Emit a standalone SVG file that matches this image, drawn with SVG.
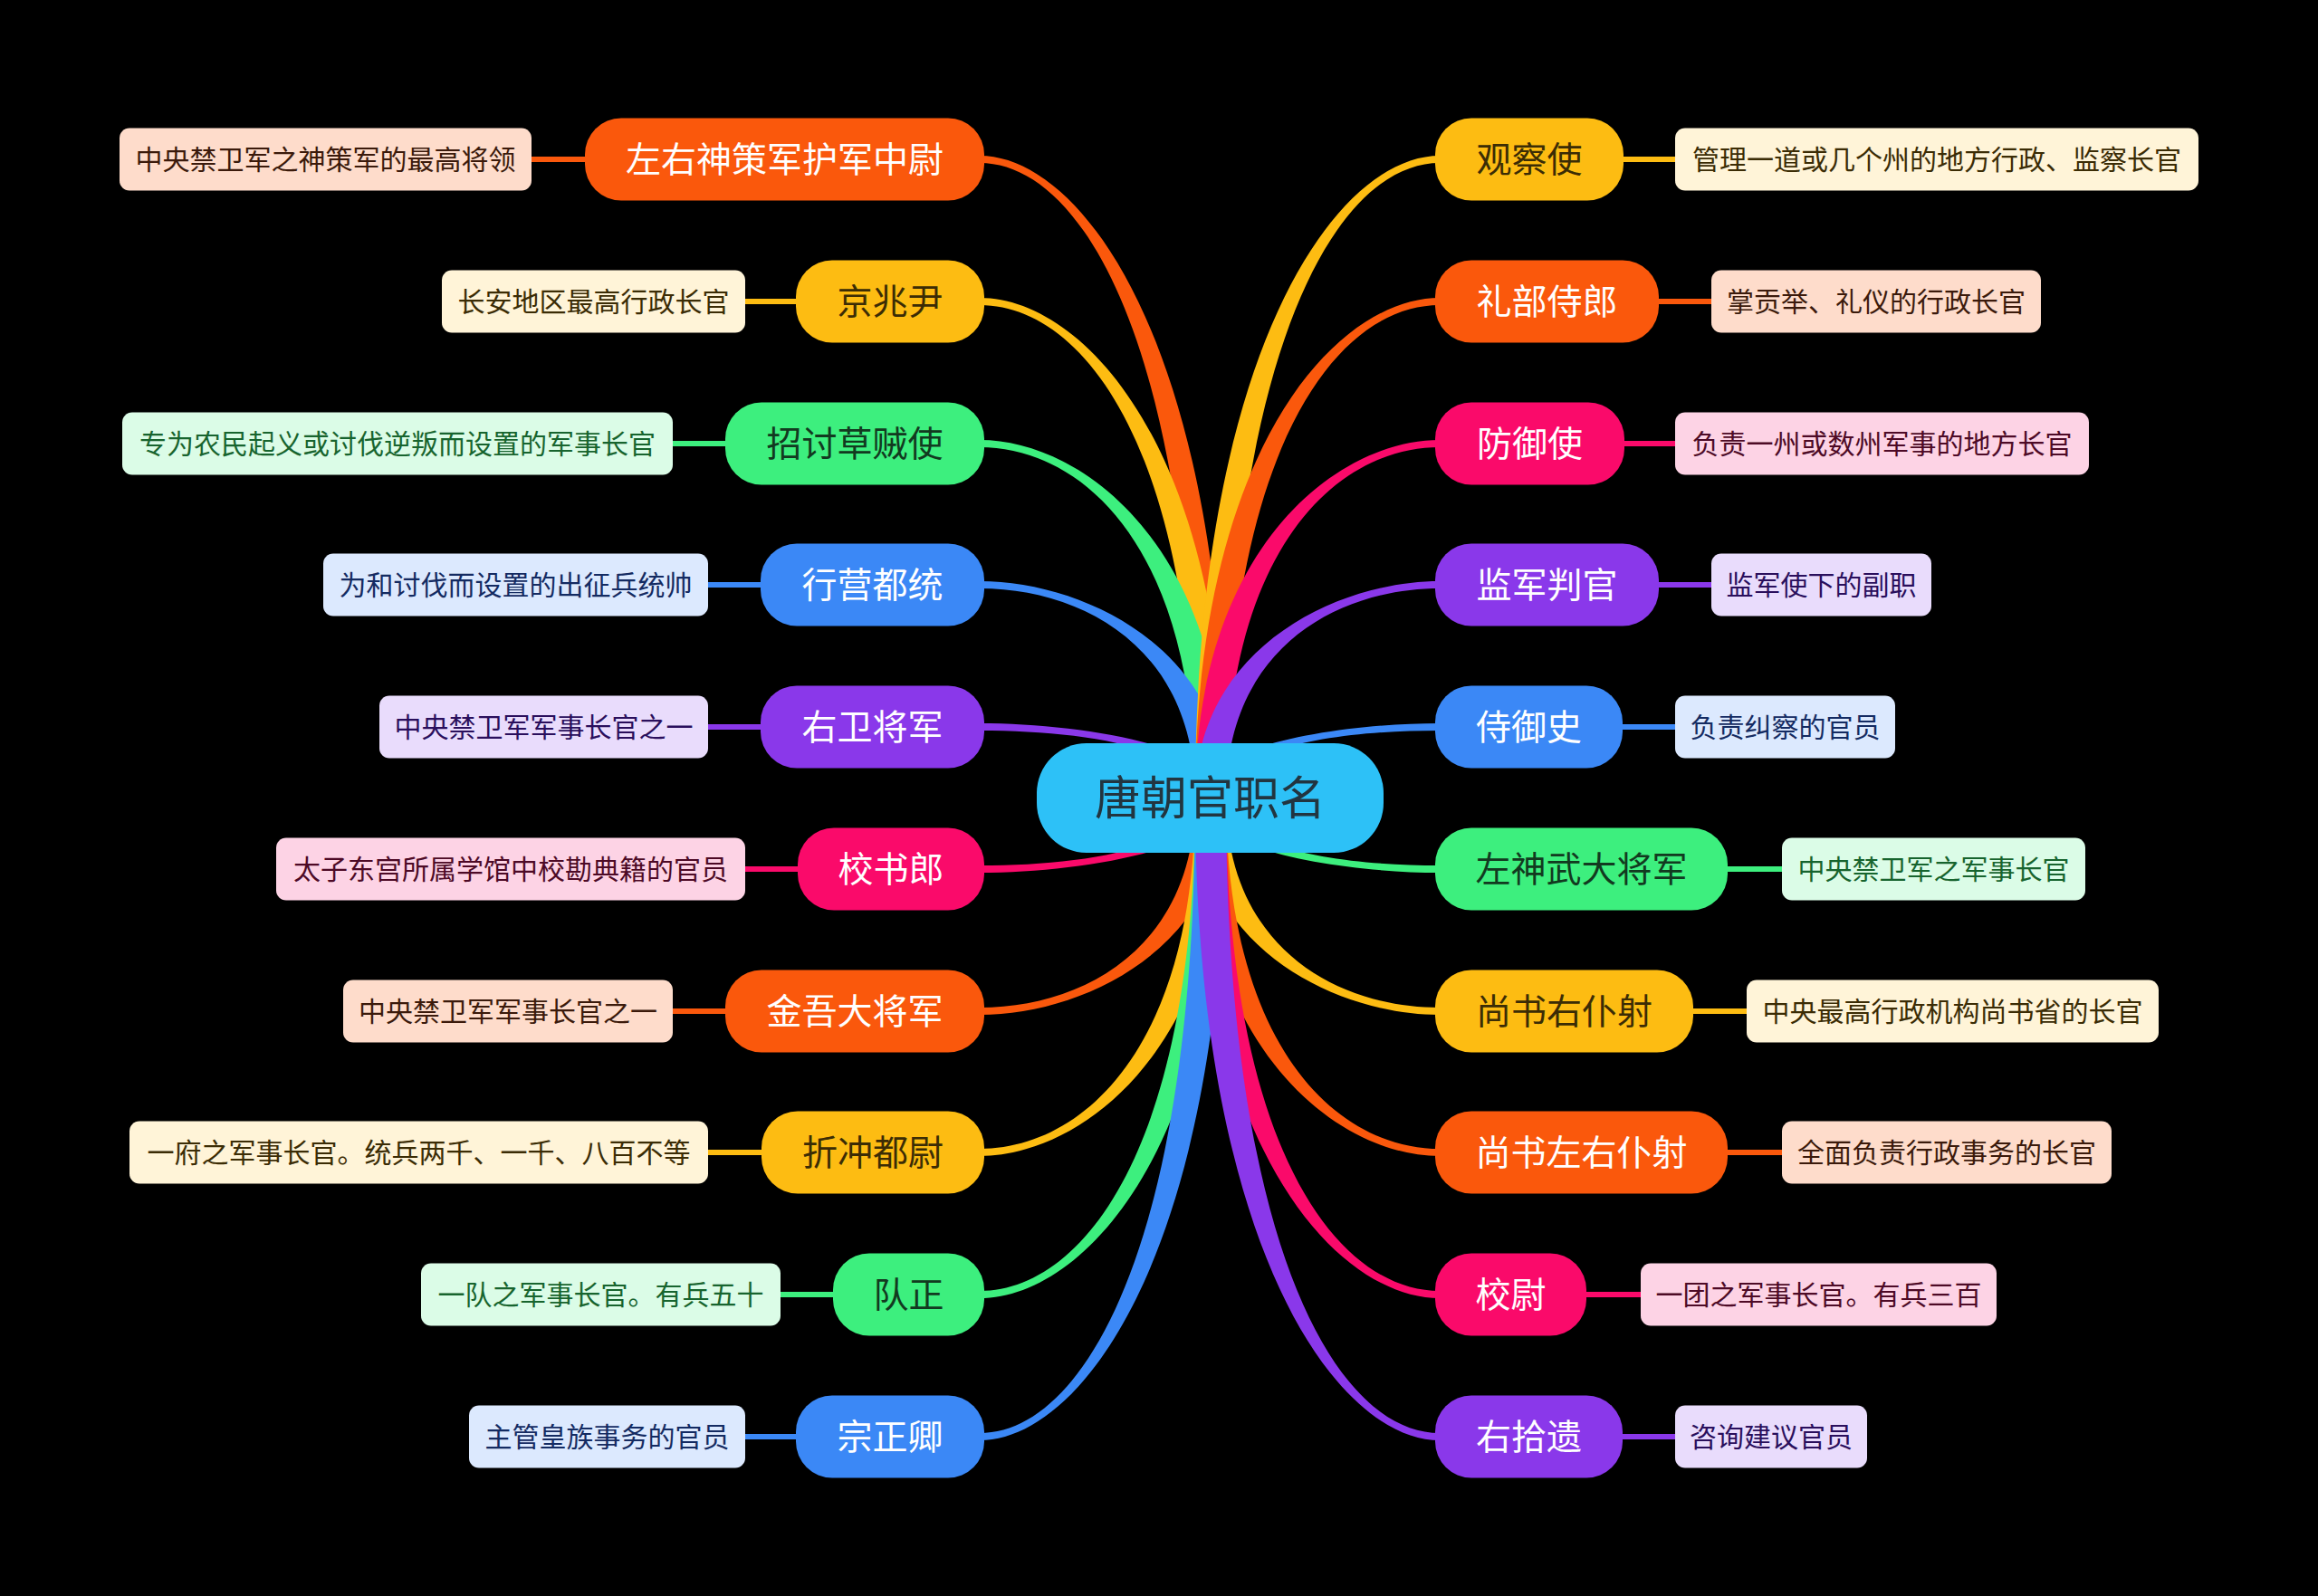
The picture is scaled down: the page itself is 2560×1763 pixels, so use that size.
<svg xmlns="http://www.w3.org/2000/svg" width="2560" height="1763" viewBox="0 0 2560 1763">
<style>
text{font-family:"Noto Sans CJK SC","Noto Sans",sans-serif;text-anchor:middle}
.t0{font-size:51px;fill:#223540}
.t1{font-size:39px}
.t2{font-size:30px}
.w{fill:#ffffff}
.or{fill:#FA580C}.orS{stroke:#FA580C}.orL{fill:#FEDCCB}.orT{fill:#3B1A0B}
.ye{fill:#FDBC12}.yeS{stroke:#FDBC12}.yeL{fill:#FFF4D8}.yeT{fill:#3B2C05}
.gr{fill:#3DEF7E}.grS{stroke:#3DEF7E}.grL{fill:#DBFCE7}.grT{fill:#17642E}.grD{fill:#123A20}
.bl{fill:#3B88F6}.blS{stroke:#3B88F6}.blL{fill:#DCE9FE}.blT{fill:#142B62}
.pu{fill:#8A38EA}.puS{stroke:#8A38EA}.puL{fill:#E9DCFC}.puT{fill:#2A0F5C}
.pk{fill:#FA0A6A}.pkS{stroke:#FA0A6A}.pkL{fill:#FDD3E5}.pkT{fill:#4D0A26}
.lk{stroke-width:6;fill:none}
</style>
<rect x="0" y="0" width="2560" height="1763" fill="#000000"/>
<g id="connectors">
<path class="or" d="M1354,881 C1354,388 1197,172 1082,172 L1082,180 C1197,180 1320,388 1320,881Z"/>
<path class="ye" d="M1354,881 C1354,497 1197,329 1082,329 L1082,337 C1197,337 1320,497 1320,881Z"/>
<path class="gr" d="M1354,881 C1354,607 1197,486 1082,486 L1082,494 C1197,494 1320,607 1320,881Z"/>
<path class="bl" d="M1354,881 C1354,717 1197,642 1082,642 L1082,650 C1197,650 1320,717 1320,881Z"/>
<path class="pu" d="M1354,881 C1354,826 1197,799 1082,799 L1082,807 C1197,807 1320,826 1320,881Z"/>
<path class="pk" d="M1354,881 C1354,936 1197,964 1082,964 L1082,956 C1197,956 1320,936 1320,881Z"/>
<path class="or" d="M1354,881 C1354,1046 1197,1121 1082,1121 L1082,1113 C1197,1113 1320,1046 1320,881Z"/>
<path class="ye" d="M1354,881 C1354,1155 1197,1277 1082,1277 L1082,1269 C1197,1269 1320,1155 1320,881Z"/>
<path class="gr" d="M1354,881 C1354,1265 1197,1434 1082,1434 L1082,1426 C1197,1426 1320,1265 1320,881Z"/>
<path class="bl" d="M1354,881 C1354,1375 1197,1591 1082,1591 L1082,1583 C1197,1583 1320,1375 1320,881Z"/>
<path class="ye" d="M1320,881 C1320,388 1476,172 1590,172 L1590,180 C1476,180 1354,388 1354,881Z"/>
<path class="or" d="M1320,881 C1320,497 1476,329 1590,329 L1590,337 C1476,337 1354,497 1354,881Z"/>
<path class="pk" d="M1320,881 C1320,607 1476,486 1590,486 L1590,494 C1476,494 1354,607 1354,881Z"/>
<path class="pu" d="M1320,881 C1320,717 1476,642 1590,642 L1590,650 C1476,650 1354,717 1354,881Z"/>
<path class="bl" d="M1320,881 C1320,826 1476,799 1590,799 L1590,807 C1476,807 1354,826 1354,881Z"/>
<path class="gr" d="M1320,881 C1320,936 1476,964 1590,964 L1590,956 C1476,956 1354,936 1354,881Z"/>
<path class="ye" d="M1320,881 C1320,1046 1476,1121 1590,1121 L1590,1113 C1476,1113 1354,1046 1354,881Z"/>
<path class="or" d="M1320,881 C1320,1155 1476,1277 1590,1277 L1590,1269 C1476,1269 1354,1155 1354,881Z"/>
<path class="pk" d="M1320,881 C1320,1265 1476,1434 1590,1434 L1590,1426 C1476,1426 1354,1265 1354,881Z"/>
<path class="pu" d="M1320,881 C1320,1375 1476,1591 1590,1591 L1590,1583 C1476,1583 1354,1375 1354,881Z"/>
<line class="lk orS" x1="585" y1="176" x2="650" y2="176"/>
<line class="lk yeS" x1="821" y1="333" x2="883" y2="333"/>
<line class="lk grS" x1="741" y1="490" x2="805" y2="490"/>
<line class="lk blS" x1="780" y1="646" x2="844" y2="646"/>
<line class="lk puS" x1="780" y1="803" x2="844" y2="803"/>
<line class="lk pkS" x1="821" y1="960" x2="885" y2="960"/>
<line class="lk orS" x1="741" y1="1117" x2="805" y2="1117"/>
<line class="lk yeS" x1="780" y1="1273" x2="845" y2="1273"/>
<line class="lk grS" x1="860" y1="1430" x2="924" y2="1430"/>
<line class="lk blS" x1="821" y1="1587" x2="883" y2="1587"/>
<line class="lk yeS" x1="1789" y1="176" x2="1852" y2="176"/>
<line class="lk orS" x1="1828" y1="333" x2="1892" y2="333"/>
<line class="lk pkS" x1="1790" y1="490" x2="1852" y2="490"/>
<line class="lk puS" x1="1828" y1="646" x2="1892" y2="646"/>
<line class="lk blS" x1="1788" y1="803" x2="1852" y2="803"/>
<line class="lk grS" x1="1904" y1="960" x2="1970" y2="960"/>
<line class="lk yeS" x1="1866" y1="1117" x2="1931" y2="1117"/>
<line class="lk orS" x1="1904" y1="1273" x2="1970" y2="1273"/>
<line class="lk pkS" x1="1748" y1="1430" x2="1814" y2="1430"/>
<line class="lk puS" x1="1788" y1="1587" x2="1852" y2="1587"/>
</g>
<g id="root"><rect x="1145" y="821" width="383" height="121" rx="55" fill="#2DC1F7"/><text class="t0" x="1336.5" y="900">唐朝官职名</text></g>
<g id="L1"><rect class="or" x="646" y="130.5" width="441" height="91" rx="40"/><text class="t1 w" x="866.5" y="190">左右神策军护军中尉</text></g>
<g id="L1a"><rect class="orL" x="132" y="141.5" width="455" height="69" rx="11"/><text class="t2 orT" x="359.5" y="187">中央禁卫军之神策军的最高将领</text></g>
<g id="L2"><rect class="ye" x="879" y="287.5" width="208" height="91" rx="40"/><text class="t1 yeT" x="983" y="347">京兆尹</text></g>
<g id="L2a"><rect class="yeL" x="488" y="298.5" width="335" height="69" rx="11"/><text class="t2 yeT" x="655.5" y="344">长安地区最高行政长官</text></g>
<g id="L3"><rect class="gr" x="801" y="444.5" width="286" height="91" rx="40"/><text class="t1 grD" x="944" y="504">招讨草贼使</text></g>
<g id="L3a"><rect class="grL" x="135" y="455.5" width="608" height="69" rx="11"/><text class="t2 grT" x="439" y="501">专为农民起义或讨伐逆叛而设置的军事长官</text></g>
<g id="L4"><rect class="bl" x="840" y="600.5" width="247" height="91" rx="40"/><text class="t1 w" x="963.5" y="660">行营都统</text></g>
<g id="L4a"><rect class="blL" x="357" y="611.5" width="425" height="69" rx="11"/><text class="t2 blT" x="569.5" y="657">为和讨伐而设置的出征兵统帅</text></g>
<g id="L5"><rect class="pu" x="840" y="757.5" width="247" height="91" rx="40"/><text class="t1 w" x="963.5" y="817">右卫将军</text></g>
<g id="L5a"><rect class="puL" x="419" y="768.5" width="363" height="69" rx="11"/><text class="t2 puT" x="600.5" y="814">中央禁卫军军事长官之一</text></g>
<g id="L6"><rect class="pk" x="881" y="914.5" width="206" height="91" rx="40"/><text class="t1 w" x="984" y="974">校书郎</text></g>
<g id="L6a"><rect class="pkL" x="305" y="925.5" width="518" height="69" rx="11"/><text class="t2 pkT" x="564" y="971">太子东宫所属学馆中校勘典籍的官员</text></g>
<g id="L7"><rect class="or" x="801" y="1071.5" width="286" height="91" rx="40"/><text class="t1 w" x="944" y="1131">金吾大将军</text></g>
<g id="L7a"><rect class="orL" x="379" y="1082.5" width="364" height="69" rx="11"/><text class="t2 orT" x="561" y="1128">中央禁卫军军事长官之一</text></g>
<g id="L8"><rect class="ye" x="841" y="1227.5" width="246" height="91" rx="40"/><text class="t1 yeT" x="964" y="1287">折冲都尉</text></g>
<g id="L8a"><rect class="yeL" x="143" y="1238.5" width="639" height="69" rx="11"/><text class="t2 yeT" x="462.5" y="1284">一府之军事长官。统兵两千、一千、八百不等</text></g>
<g id="L9"><rect class="gr" x="920" y="1384.5" width="167" height="91" rx="40"/><text class="t1 grD" x="1003.5" y="1444">队正</text></g>
<g id="L9a"><rect class="grL" x="465" y="1395.5" width="397" height="69" rx="11"/><text class="t2 grT" x="663.5" y="1441">一队之军事长官。有兵五十</text></g>
<g id="L10"><rect class="bl" x="879" y="1541.5" width="208" height="91" rx="40"/><text class="t1 w" x="983" y="1601">宗正卿</text></g>
<g id="L10a"><rect class="blL" x="518" y="1552.5" width="305" height="69" rx="11"/><text class="t2 blT" x="670.5" y="1598">主管皇族事务的官员</text></g>
<g id="R1"><rect class="ye" x="1585" y="130.5" width="208" height="91" rx="40"/><text class="t1 yeT" x="1689" y="190">观察使</text></g>
<g id="R1a"><rect class="yeL" x="1850" y="141.5" width="578" height="69" rx="11"/><text class="t2 yeT" x="2139" y="187">管理一道或几个州的地方行政、监察长官</text></g>
<g id="R2"><rect class="or" x="1585" y="287.5" width="247" height="91" rx="40"/><text class="t1 w" x="1708.5" y="347">礼部侍郎</text></g>
<g id="R2a"><rect class="orL" x="1890" y="298.5" width="364" height="69" rx="11"/><text class="t2 orT" x="2072" y="344">掌贡举、礼仪的行政长官</text></g>
<g id="R3"><rect class="pk" x="1585" y="444.5" width="209" height="91" rx="40"/><text class="t1 w" x="1689.5" y="504">防御使</text></g>
<g id="R3a"><rect class="pkL" x="1850" y="455.5" width="457" height="69" rx="11"/><text class="t2 pkT" x="2078.5" y="501">负责一州或数州军事的地方长官</text></g>
<g id="R4"><rect class="pu" x="1585" y="600.5" width="247" height="91" rx="40"/><text class="t1 w" x="1708.5" y="660">监军判官</text></g>
<g id="R4a"><rect class="puL" x="1890" y="611.5" width="243" height="69" rx="11"/><text class="t2 puT" x="2011.5" y="657">监军使下的副职</text></g>
<g id="R5"><rect class="bl" x="1585" y="757.5" width="207" height="91" rx="40"/><text class="t1 w" x="1688.5" y="817">侍御史</text></g>
<g id="R5a"><rect class="blL" x="1850" y="768.5" width="243" height="69" rx="11"/><text class="t2 blT" x="1971.5" y="814">负责纠察的官员</text></g>
<g id="R6"><rect class="gr" x="1585" y="914.5" width="323" height="91" rx="40"/><text class="t1 grD" x="1746.5" y="974">左神武大将军</text></g>
<g id="R6a"><rect class="grL" x="1968" y="925.5" width="335" height="69" rx="11"/><text class="t2 grT" x="2135.5" y="971">中央禁卫军之军事长官</text></g>
<g id="R7"><rect class="ye" x="1585" y="1071.5" width="285" height="91" rx="40"/><text class="t1 yeT" x="1727.5" y="1131">尚书右仆射</text></g>
<g id="R7a"><rect class="yeL" x="1929" y="1082.5" width="455" height="69" rx="11"/><text class="t2 yeT" x="2156.5" y="1128">中央最高行政机构尚书省的长官</text></g>
<g id="R8"><rect class="or" x="1585" y="1227.5" width="323" height="91" rx="40"/><text class="t1 w" x="1746.5" y="1287">尚书左右仆射</text></g>
<g id="R8a"><rect class="orL" x="1968" y="1238.5" width="364" height="69" rx="11"/><text class="t2 orT" x="2150" y="1284">全面负责行政事务的长官</text></g>
<g id="R9"><rect class="pk" x="1585" y="1384.5" width="167" height="91" rx="40"/><text class="t1 w" x="1668.5" y="1444">校尉</text></g>
<g id="R9a"><rect class="pkL" x="1812" y="1395.5" width="393" height="69" rx="11"/><text class="t2 pkT" x="2008.5" y="1441">一团之军事长官。有兵三百</text></g>
<g id="R10"><rect class="pu" x="1585" y="1541.5" width="207" height="91" rx="40"/><text class="t1 w" x="1688.5" y="1601">右拾遗</text></g>
<g id="R10a"><rect class="puL" x="1850" y="1552.5" width="212" height="69" rx="11"/><text class="t2 puT" x="1956" y="1598">咨询建议官员</text></g>
</svg>
